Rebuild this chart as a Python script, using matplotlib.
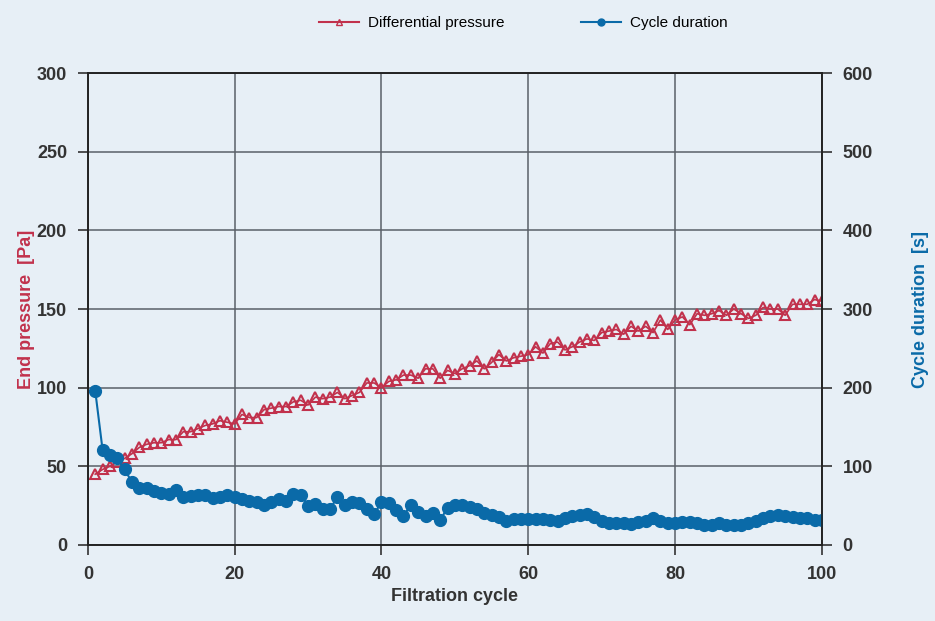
import matplotlib.pyplot as plt
from matplotlib.lines import Line2D

# ---- data ----
cycles = list(range(1, 101))

pressure = [
    45, 48, 50, 53, 55, 58, 62, 64, 65, 65,
    67, 67, 72, 72, 74, 76, 77, 79, 78, 77,
    83, 81, 81, 86, 87, 88, 88, 91, 92, 89,
    94, 93, 94, 97, 93, 95, 97, 103, 103, 100,
    104, 105, 108, 108, 106, 112, 112, 106, 111, 109,
    112, 114, 117, 112, 116, 121, 117, 119, 120, 121,
    126, 122, 128, 129, 124, 126, 129, 131, 130, 135,
    136, 137, 134, 139, 136, 139, 135, 143, 137, 143,
    145, 140, 147, 146, 147, 149, 146, 150, 147, 144,
    146, 151, 150, 150, 146, 153, 153, 153, 156, 155,
]

duration = [
    196, 121, 114, 110, 96, 80, 73, 72, 69, 66,
    65, 70, 61, 62, 64, 64, 60, 61, 64, 61,
    58, 56, 55, 51, 55, 58, 56, 65, 64, 50,
    52, 46, 46, 61, 51, 55, 53, 46, 39, 55,
    53, 44, 37, 51, 42, 37, 41, 32, 47, 51,
    51, 48, 46, 41, 38, 35, 30, 33, 33, 33,
    33, 33, 32, 30, 34, 37, 38, 40, 35, 30,
    28, 28, 28, 27, 29, 31, 34, 30, 28, 28,
    29, 29, 28, 26, 26, 28, 26, 26, 25, 28,
    30, 34, 37, 38, 37, 35, 34, 34, 32, 32,
]

x_ticks = [0, 20, 40, 60, 80, 100]
left_ticks = [0, 50, 100, 150, 200, 250, 300]
right_ticks = [0, 100, 200, 300, 400, 500, 600]

RED = "#c1314c"
BLUE = "#0a6aa8"
BG = "#e7eff6"
TXT = "#333333"

plt.rcParams["font.family"] = ["Liberation Sans", "DejaVu Sans"]

fig = plt.figure(figsize=(9.35, 6.21), dpi=100)
fig.patch.set_facecolor(BG)
ax = fig.add_axes([0.094, 0.1224, 0.785, 0.76])
ax.set_facecolor(BG)

ax.plot(cycles, pressure, color=RED, lw=1.2, marker="^", markersize=7.5,
        markerfacecolor="none", markeredgecolor=RED, markeredgewidth=1.5)
ax.set_xlim(0, 100)
ax.set_ylim(0, 300)
ax.set_xticks(x_ticks)
ax.set_yticks(left_ticks)
ax.grid(True, color="#5a6068", lw=1.1)
ax.set_axisbelow(True)

ax2 = ax.twinx()
ax2.plot(cycles, duration, color=BLUE, lw=1.5, marker="o", markersize=8.5,
         markerfacecolor=BLUE, markeredgecolor=BLUE)
ax2.set_ylim(0, 600)
ax2.set_yticks(right_ticks)

for a in (ax, ax2):
    for s in a.spines.values():
        s.set_color("#222222")
        s.set_linewidth(1.2)
    a.tick_params(axis="both", direction="out", length=7, width=1.1,
                  colors="#222222", labelcolor=TXT, labelsize=13, pad=8)
    for lab in a.get_xticklabels() + a.get_yticklabels():
        lab.set_fontweight("bold")

ax.set_ylabel("End pressure  [Pa]", color=RED, fontsize=13, fontweight="bold", labelpad=1)
ax2.set_ylabel("Cycle duration  [s]", color=BLUE, fontsize=13, fontweight="bold", labelpad=28)
ax.set_xlabel("Filtration cycle", color=TXT, fontsize=13, fontweight="bold", labelpad=4)

handles = [
    Line2D([], [], color=RED, lw=1.5, marker="^", markersize=5,
           markerfacecolor="none", markeredgecolor=RED),
    Line2D([], [], color=BLUE, lw=1.5, marker="o", markersize=5,
           markerfacecolor=BLUE),
]
fig.legend(handles, ["Differential pressure", "Cycle duration"],
           loc="center", bbox_to_anchor=(0.56, 0.963), ncol=2, frameon=False,
           fontsize=11, handlelength=2.6, handletextpad=0.6, columnspacing=5)

fig.savefig("out.png", dpi=100, facecolor=BG)
